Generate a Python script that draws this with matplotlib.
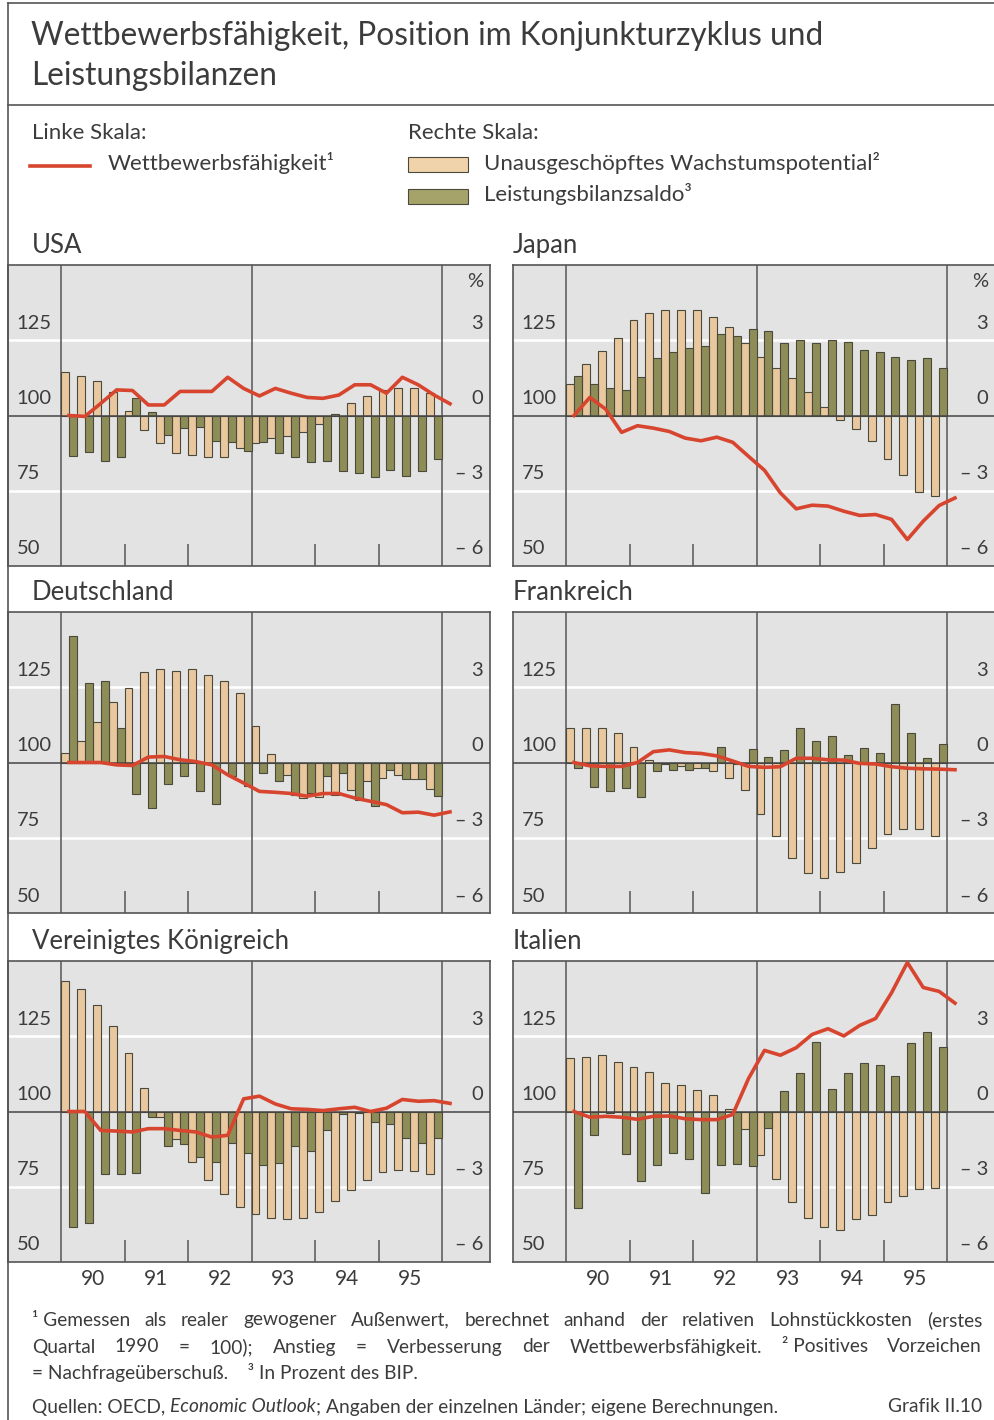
import numpy as np
import matplotlib as mpl
import matplotlib.pyplot as plt
from matplotlib.transforms import offset_copy
from matplotlib.lines import Line2D
from matplotlib.patches import Rectangle

plt.rcParams['font.family'] = ['Lato', 'DejaVu Sans']

# ---------------- data ----------------
years = ['90', '91', '92', '93', '94', '95']
left_ticks = [50, 75, 100, 125]
right_ticks = [-6, -3, 0, 3]
right_labels = ['– 6', '– 3', '0', '3']

usa_gap = [1.72, 1.59, 1.39, 0.95, 0.16, -0.57, -1.10, -1.50, -1.59, -1.66, -1.66, -1.30,
           -1.10, -0.90, -0.83, -0.64, -0.33, 0.07, 0.49, 0.78, 1.02, 1.09, 1.09, 0.89]
usa_ca = [-1.60, -1.47, -1.80, -1.67, 0.69, 0.12, -0.77, -0.50, -0.44, -1.03, -1.07, -1.40,
          -1.07, -1.50, -1.66, -1.85, -1.83, -2.20, -2.29, -2.46, -2.19, -2.42, -2.20, -1.72]
usa_comp = [100, 99.7, 104, 108.5, 108.3, 103.5, 103.5, 108, 108, 108, 112.7, 109, 106.5,
            109, 107.4, 106, 105.7, 106.8, 110.2, 110.2, 107.4, 112.7, 110.2, 106.8, 103.9]

jpn_gap = [1.26, 2.04, 2.58, 3.07, 3.79, 4.09, 4.20, 4.22, 4.20, 3.91, 3.51, 2.91,
           2.34, 1.91, 1.51, 0.93, 0.33, -0.19, -0.54, -1.03, -1.72, -2.38, -3.05, -3.22]
jpn_ca = [1.59, 1.25, 1.11, 1.02, 1.55, 2.28, 2.54, 2.68, 2.77, 3.23, 3.17, 3.43,
          3.38, 2.91, 3.00, 2.91, 3.00, 2.94, 2.61, 2.52, 2.34, 2.21, 2.30, 1.91]
jpn_comp = [100, 106, 102.1, 94.4, 96.6, 95.8, 94.7, 92.5, 91.6, 92.8, 91.1, 86.4, 81.8,
            74.3, 69.0, 70.2, 69.9, 68.2, 66.8, 67.1, 65.5, 58.8, 64.9, 70.1, 72.6]

deu_gap = [0.37, 0.87, 1.63, 2.42, 2.99, 3.62, 3.71, 3.64, 3.71, 3.48, 3.25, 2.78,
           1.47, 0.33, -0.49, -1.42, -1.38, -1.28, -1.09, -0.75, -0.62, -0.49, -0.66, -1.05]
deu_ca = [5.05, 3.15, 3.26, 1.36, -1.25, -1.81, -0.85, -0.52, -1.15, -1.66, -0.53, -0.95,
          -0.40, -0.75, -1.31, -1.22, -0.53, -0.42, -1.48, -1.75, -0.29, -0.66, -0.65, -1.32]
deu_comp = [100, 100, 100, 99.2, 99.0, 101.8, 102, 100.9, 100.3, 99.2, 95.9, 93.2, 90.4,
            90.1, 89.7, 88.8, 89.7, 89.7, 88.2, 87.1, 86.0, 83.3, 83.5, 82.5, 83.6]

fra_gap = [1.36, 1.39, 1.39, 1.17, 0.60, 0.10, -0.05, -0.15, -0.20, -0.33, -0.60, -1.10,
           -2.05, -2.95, -3.80, -4.41, -4.61, -4.37, -4.00, -3.42, -2.85, -2.65, -2.65, -2.94]
fra_ca = [-0.23, -0.99, -1.15, -1.03, -1.39, -0.33, -0.30, -0.28, -0.22, 0.62, -0.05, 0.53,
          0.20, 0.50, 1.36, 0.86, 1.06, 0.30, 0.57, 0.36, 2.32, 1.19, 0.16, 0.73]
fra_comp = [100, 98.9, 98.7, 98.7, 100, 103.6, 104.2, 103.3, 103.0, 102.2, 100.5, 98.7, 98.4,
            98.6, 101.4, 101.4, 100.9, 100.8, 99.7, 99.5, 98.6, 98.1, 97.9, 97.8, 97.6]

gbr_gap = [5.20, 4.87, 4.24, 3.42, 2.32, 0.94, -0.22, -1.09, -2.00, -2.74, -3.27, -3.80,
           -4.07, -4.26, -4.30, -4.24, -4.00, -3.58, -3.14, -2.72, -2.41, -2.32, -2.38, -2.48]
gbr_ca = [-4.62, -4.46, -2.49, -2.50, -2.44, -0.22, -1.39, -1.28, -1.81, -2.00, -1.25, -1.64,
          -2.15, -2.04, -1.39, -1.59, -0.72, -0.09, -0.05, -0.42, -0.49, -1.06, -1.25, -1.06]
gbr_comp = [100, 100, 93.7, 93.5, 93.2, 94.3, 94.3, 93.7, 93.2, 91.5, 92.1, 104.2, 105.1,
            102.5, 100.9, 100.7, 100.3, 100.9, 101.4, 100, 101.1, 104.0, 103.4, 103.6, 102.7]

ita_gap = [2.13, 2.16, 2.25, 1.96, 1.76, 1.59, 1.14, 1.06, 0.87, 0.64, 0.08, -0.69,
           -1.72, -2.68, -3.60, -4.23, -4.60, -4.73, -4.29, -4.11, -3.60, -3.38, -3.07, -3.03]
ita_ca = [-3.83, -0.95, -0.05, -1.71, -2.77, -2.12, -1.64, -1.91, -3.23, -2.12, -2.08, -2.17,
          -0.66, 0.83, 1.52, 2.79, 0.90, 1.52, 1.92, 1.85, 1.43, 2.75, 3.15, 2.56]
ita_comp = [100, 98.1, 98.4, 98.1, 97.4, 98.4, 98.5, 97.6, 97.3, 97.3, 99.0, 111.0, 120.3,
            118.7, 121.2, 125.6, 127.5, 125.1, 128.6, 130.9, 139.4, 149.5, 141.2, 139.9, 136.0]

panels = [
    ('USA', usa_gap, usa_ca, usa_comp),
    ('Japan', jpn_gap, jpn_ca, jpn_comp),
    ('Deutschland', deu_gap, deu_ca, deu_comp),
    ('Frankreich', fra_gap, fra_ca, fra_comp),
    ('Vereinigtes Königreich', gbr_gap, gbr_ca, gbr_comp),
    ('Italien', ita_gap, ita_ca, ita_comp),
]

title_lines = ['Wettbewerbsfähigkeit, Position im Konjunkturzyklus und', 'Leistungsbilanzen']
lbl_left = 'Linke Skala:'
lbl_right = 'Rechte Skala:'
lbl_comp = 'Wettbewerbsfähigkeit¹'
lbl_gap = 'Unausgeschöpftes Wachstumspotential²'
lbl_ca = 'Leistungsbilanzsaldo³'

# ---------------- style ----------------
W, H = 994, 1420
TXT = '#3c3c3c'
FRAME = '#555555'
BG = '#e3e3e3'
TAN = '#e9c8a0'
OLIVE = '#8e8d57'
TAN_LEG = '#f1d3ab'
OLIVE_LEG = '#a5a36a'
EDGE = '#4a4a3c'
RED = '#d8452f'

fig = plt.figure(figsize=(W / 100, H / 100), dpi=100)
fig.patch.set_facecolor('white')


def fx(px):
    return px / W


def fy(py):
    return 1 - py / H


# frame lines
for xs, ys in [([8, 8], [3, H]), ([8, W], [3, 3]), ([8, W], [105, 105])]:
    fig.add_artist(Line2D([fx(x) for x in xs], [fy(y) for y in ys],
                          transform=fig.transFigure, color=FRAME, lw=1.2))

# title
fig.text(fx(31), fy(36), title_lines[0], fontsize=22.8, color=TXT, va='center')
fig.text(fx(31), fy(76), title_lines[1], fontsize=22.8, color=TXT, va='center')

# legend
LFS = 16
fig.text(fx(32), fy(133), lbl_left, fontsize=LFS, color=TXT, va='center')
fig.text(fx(408), fy(133), lbl_right, fontsize=LFS, color=TXT, va='center')
fig.add_artist(Line2D([fx(30), fx(90)], [fy(166), fy(166)], transform=fig.transFigure,
                      color=RED, lw=2.6))
fig.text(fx(108), fy(163), lbl_comp, fontsize=LFS, color=TXT, va='center')
fig.add_artist(Rectangle((fx(408), fy(172)), 60 / W, 15 / H, transform=fig.transFigure,
                         facecolor=TAN_LEG, edgecolor=EDGE, lw=0.8))
fig.text(fx(484), fy(163), lbl_gap, fontsize=LFS, color=TXT, va='center')
fig.add_artist(Rectangle((fx(408), fy(204)), 60 / W, 15 / H, transform=fig.transFigure,
                         facecolor=OLIVE_LEG, edgecolor=EDGE, lw=0.8))
fig.text(fx(484), fy(194), lbl_ca, fontsize=LFS, color=TXT, va='center')

# panels
col_left = [8, 513]
title_x = [32, 513]
row_top = [265, 612, 961]
box_w, box_h = 482, 301
XL = (-3.34, 27.02)
q = np.arange(24)
ql = np.arange(25)
TFS = 14.5

for k, (name, gap, ca, comp) in enumerate(panels):
    r, c = divmod(k, 2)
    lp, tp = col_left[c], row_top[r]
    ax = fig.add_axes([fx(lp), fy(tp + box_h), box_w / W, box_h / H])
    ax.set_facecolor(BG)
    ax.set_xlim(*XL)
    ax.set_ylim(-6, 6)
    for s in ax.spines.values():
        s.set_color(FRAME)
        s.set_linewidth(1.2)
    ax.axhline(3, color='white', lw=1.8, zorder=1)
    ax.axhline(-3, color='white', lw=1.8, zorder=1)
    for v in (0, 12, 24):
        ax.axvline(v, color=FRAME, lw=1.1, zorder=1.5)
    ax.bar(q + 0.25, gap, width=0.5, color=TAN, edgecolor=EDGE, linewidth=0.8, zorder=2)
    ax.bar(q + 0.75, ca, width=0.5, color=OLIVE, edgecolor=EDGE, linewidth=0.8, zorder=2)
    ax.axhline(0, color='#444444', lw=1.1, zorder=3)
    ax.set_yticks([])
    ax.set_xticks([4, 8, 16, 20])
    ax.tick_params(axis='x', which='major', direction='in', length=16, width=1.1,
                   color=FRAME, labelbottom=False)
    if r == 2:
        ax.set_xticks(np.arange(6) * 4 + 2, minor=True)
        ax.set_xticklabels(years, minor=True)
        ax.tick_params(axis='x', which='minor', length=0, pad=5, labelsize=15,
                       labelcolor=TXT)
    axl = ax.twinx()
    axl.set_ylim(50, 150)
    axl.set_xlim(*XL)
    axl.set_axis_off()
    axl.plot(ql + 0.5, comp, color=RED, lw=2.6, zorder=4, solid_joinstyle='round')

    tl = offset_copy(axl.transData, fig=fig, y=17, units='dots')
    for v in left_ticks:
        axl.text(-2.8, v, str(v), transform=tl, ha='left', va='center', fontsize=TFS,
                 color=TXT)
    tr = offset_copy(ax.transData, fig=fig, y=17, units='dots')
    for v, s in zip(right_ticks, right_labels):
        ax.text(26.6, v, s, transform=tr, ha='right', va='center', fontsize=TFS, color=TXT)
    if r == 0:
        tp_ = offset_copy(ax.transData, fig=fig, y=-16, units='dots')
        ax.text(26.6, 6, '%', transform=tp_, ha='right', va='center', fontsize=TFS,
                color=TXT)
    fig.text(fx(title_x[c]), fy(tp - 12), name, fontsize=18.5, color=TXT, va='baseline')

# footnotes
foot1 = ['¹ Gemessen', 'als', 'realer', 'gewogener', 'Außenwert,', 'berechnet', 'anhand', 'der',
         'relativen', 'Lohnstückkosten', '(erstes']
foot2 = ['Quartal', '1990', '=', '100);', 'Anstieg', '=', 'Verbesserung', 'der',
         'Wettbewerbsfähigkeit.', '² Positives', 'Vorzeichen']
foot3 = '= Nachfrageüberschuß.    ³ In Prozent des BIP.'
src = ['Quellen: OECD,', 'Economic Outlook', '; Angaben der einzelnen Länder; eigene Berechnungen.']
grafik = 'Grafik II.10'
FS = 13.8

fig.canvas.draw()
rend = fig.canvas.get_renderer()


def justify(words, y, x0, x1):
    ts = [fig.text(0, fy(y), w, fontsize=FS, color=TXT, va='center') for w in words]
    ws = [t.get_window_extent(rend).width for t in ts]
    g = ((x1 - x0) - sum(ws)) / (len(ws) - 1)
    x = x0
    for t, w in zip(ts, ws):
        t.set_x(fx(x))
        x += w + g


justify(foot1, 1320, 32, 982)
justify(foot2, 1347, 32, 982)
fig.text(fx(32), fy(1373), foot3, fontsize=FS, color=TXT, va='center')

x = 32
for i, s in enumerate(src):
    t = fig.text(fx(x), fy(1407), s, fontsize=FS, color=TXT, va='center',
                 style='italic' if i == 1 else 'normal')
    w = t.get_window_extent(rend).width
    x += w + (5 if i == 0 else 0)
fig.text(fx(982), fy(1407), grafik, fontsize=FS, color=TXT, va='center', ha='right')

fig.savefig('out.png', dpi=100, facecolor='white')
